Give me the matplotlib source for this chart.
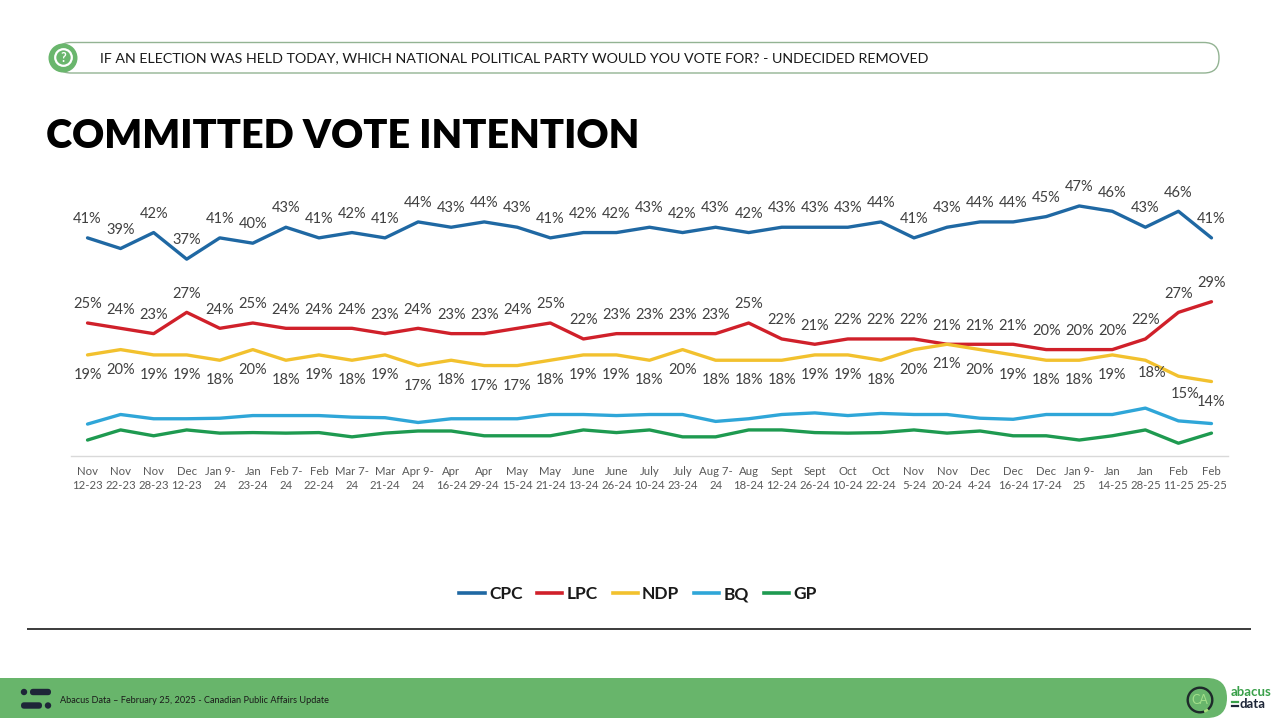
import matplotlib
matplotlib.use("Agg")
import matplotlib.pyplot as plt
from matplotlib.patches import FancyBboxPatch, Circle, Wedge
from matplotlib.lines import Line2D

# ---------------- data ----------------
periods = ["Nov\n12-23", "Nov\n22-23", "Nov\n28-23", "Dec\n12-23", "Jan 9-\n24", "Jan\n23-24",
           "Feb 7-\n24", "Feb\n22-24", "Mar 7-\n24", "Mar\n21-24", "Apr 9-\n24", "Apr\n16-24",
           "Apr\n29-24", "May\n15-24", "May\n21-24", "June\n13-24", "June\n26-24", "July\n10-24",
           "July\n23-24", "Aug 7-\n24", "Aug\n18-24", "Sept\n12-24", "Sept\n26-24", "Oct\n10-24",
           "Oct\n22-24", "Nov\n5-24", "Nov\n20-24", "Dec\n4-24", "Dec\n16-24", "Dec\n17-24",
           "Jan 9-\n25", "Jan\n14-25", "Jan\n28-25", "Feb\n11-25", "Feb\n25-25"]

cpc = [41, 39, 42, 37, 41, 40, 43, 41, 42, 41, 44, 43, 44, 43, 41, 42, 42, 43, 42, 43, 42, 43,
       43, 43, 44, 41, 43, 44, 44, 45, 47, 46, 43, 46, 41]
lpc = [25, 24, 23, 27, 24, 25, 24, 24, 24, 23, 24, 23, 23, 24, 25, 22, 23, 23, 23, 23, 25, 22,
       21, 22, 22, 22, 21, 21, 21, 20, 20, 20, 22, 27, 29]
ndp = [19, 20, 19, 19, 18, 20, 18, 19, 18, 19, 17, 18, 17, 17, 18, 19, 19, 18, 20, 18, 18, 18,
       19, 19, 18, 20, 21, 20, 19, 18, 18, 19, 18, 15, 14]
bq = [6.0, 7.8, 7.0, 7.0, 7.1, 7.6, 7.6, 7.6, 7.3, 7.2, 6.3, 7.0, 7.0, 7.0, 7.8, 7.8, 7.6, 7.8,
      7.8, 6.5, 7.0, 7.8, 8.1, 7.6, 8.0, 7.8, 7.8, 7.1, 6.9, 7.8, 7.8, 7.8, 9.0, 6.6, 6.1]
gp = [3.0, 4.9, 3.8, 4.9, 4.3, 4.4, 4.3, 4.4, 3.6, 4.3, 4.7, 4.7, 3.8, 3.8, 3.8, 4.9, 4.4, 4.9,
      3.6, 3.6, 4.9, 4.9, 4.4, 4.3, 4.4, 4.9, 4.3, 4.7, 3.8, 3.8, 3.0, 3.8, 4.9, 2.4, 4.3]

party_names = ["CPC", "LPC", "NDP", "BQ", "GP"]

title_text = "COMMITTED VOTE INTENTION"
question_text = "IF AN ELECTION WAS HELD TODAY, WHICH NATIONAL POLITICAL PARTY WOULD YOU VOTE FOR? - UNDECIDED REMOVED"
footer_text = "Abacus Data \u2013 February 25, 2025 - Canadian Public Affairs Update"

# ---------------- style ----------------
colors = {"CPC": "#1f68a3", "LPC": "#d0202a", "NDP": "#f2c12e", "BQ": "#2fa6d8", "GP": "#1e9a50"}
plt.rcParams['font.family'] = ['Lato', 'DejaVu Sans']

fig = plt.figure(figsize=(12.8, 7.2), dpi=100)
fig.patch.set_facecolor("white")

# background / decoration layer in pixel coords
bg = fig.add_axes([0, 0, 1, 1], zorder=0)
bg.set_xlim(0, 1280)
bg.set_ylim(720, 0)
bg.axis("off")

# header box
bg.add_patch(FancyBboxPatch((56, 42.5), 1163, 30.5,
                            boxstyle="round,pad=0,rounding_size=15",
                            fc="white", ec="#93b393", lw=1.0))
bg.add_patch(Circle((63, 58), 14.5, fc="#6ab66d", ec="none", zorder=3))
bg.add_patch(Circle((63.5, 57.5), 8.3, fc="none", ec="white", lw=1.6, zorder=4))
bg.text(63.5, 57.8, "?", color="white", fontsize=9, fontweight="bold",
        ha="center", va="center", zorder=5)
bg.text(100, 58.5, question_text, fontsize=10.25, color="#1a1a1a", va="center", ha="left")

# title
bg.text(46, 137, title_text, fontsize=28.5, fontweight="heavy", color="black",
        va="center", ha="left")

# separator
bg.plot([27, 1251], [629, 629], color="#1a1a1a", lw=1.2, solid_capstyle="butt")

# footer band
bg.add_patch(FancyBboxPatch((-40, 678), 1267, 40,
                            boxstyle="round,pad=0,rounding_size=20",
                            fc="#68b56b", ec="none"))
navy = "#1e2638"
bg.add_patch(Circle((24, 692), 3.2, fc=navy, ec="none"))
bg.add_patch(FancyBboxPatch((30, 688.8), 21, 6.4, boxstyle="round,pad=0,rounding_size=3.2",
                            fc=navy, ec="none"))
bg.add_patch(FancyBboxPatch((21, 702.3), 21, 6.4, boxstyle="round,pad=0,rounding_size=3.2",
                            fc=navy, ec="none"))
bg.add_patch(Circle((48, 705.5), 3.2, fc=navy, ec="none"))
bg.text(60, 700.5, footer_text, fontsize=6.6, color="#1a1a1a", va="center", ha="left")

# right logo
bg.add_patch(Wedge((1200, 700), 13.5, 70, 50, width=2.4, fc="#1e2a2a", ec="none"))
bg.add_patch(Wedge((1200, 700), 13.5, 50, 70, width=2.4, fc="#a7dd7a", ec="none"))
bg.text(1200, 700.5, "CA", fontsize=9, color="#a3df8a", ha="center", va="center")
bg.text(1231, 692, "abacus", fontsize=9.5, color="#3aa04a", ha="left", va="center",
        fontweight="bold")
bg.text(1240, 703.5, "data", fontsize=9.5, color="#1e2638", ha="left", va="center",
        fontweight="bold")
bg.plot([1232, 1237.5], [701.5, 701.5], color="#3aa04a", lw=1.6)
bg.plot([1232, 1237.5], [705.5, 705.5], color="#1e2638", lw=1.6)

# ---------------- chart ----------------
ax = fig.add_axes([71 / 1280, (720 - 456) / 720, (1228 - 71) / 1280, 266 / 720], zorder=2)
ax.patch.set_alpha(0)
x = list(range(len(periods)))
series = {"CPC": cpc, "LPC": lpc, "NDP": ndp, "BQ": bq, "GP": gp}
for name in party_names:
    ax.plot(x, series[name], color=colors[name], lw=2.4, solid_joinstyle="round",
            solid_capstyle="round", label=name, zorder=3)

ax.set_xlim(-0.5, len(periods) - 0.5)
ax.set_ylim(0, 50)
for s in ["top", "right", "left"]:
    ax.spines[s].set_visible(False)
ax.spines["bottom"].set_color("#d9d9d9")
ax.spines["bottom"].set_linewidth(1.0)
ax.set_yticks([])
ax.set_xticks(x)
ax.set_xticklabels(periods, fontsize=8.2, color="#595959", linespacing=1.35)
ax.tick_params(axis="x", length=0, pad=7)

label_kw = dict(ha="center", va="center", fontsize=10.5, color="#404040",
                textcoords="offset points", zorder=4)
for i, v in enumerate(cpc):
    ax.annotate(f"{v}%", (i, v), xytext=(0, 13.5), **label_kw)
for i, v in enumerate(lpc):
    ax.annotate(f"{v}%", (i, v), xytext=(0, 13.5), **label_kw)
ndp_dx = {32: 5, 33: 5}
ndp_dy = {32: -9.5, 33: -12.5}
for i, v in enumerate(ndp):
    ax.annotate(f"{v}%", (i, v), xytext=(ndp_dx.get(i, 0), ndp_dy.get(i, -14.5)), **label_kw)

handles = [Line2D([0], [0], color=colors[n], lw=2.6) for n in party_names]
leg = ax.legend(handles, party_names, ncol=5, loc="center",
                bbox_to_anchor=(638 / 1280, 1 - 594 / 720), bbox_transform=fig.transFigure,
                frameon=False, handlelength=1.45, handletextpad=0.25, columnspacing=0.85,
                prop={"weight": "bold", "size": 12.5})
for t in leg.get_texts():
    t.set_color("#1a1a1a")

fig.savefig("out.png", dpi=100, facecolor="white")
